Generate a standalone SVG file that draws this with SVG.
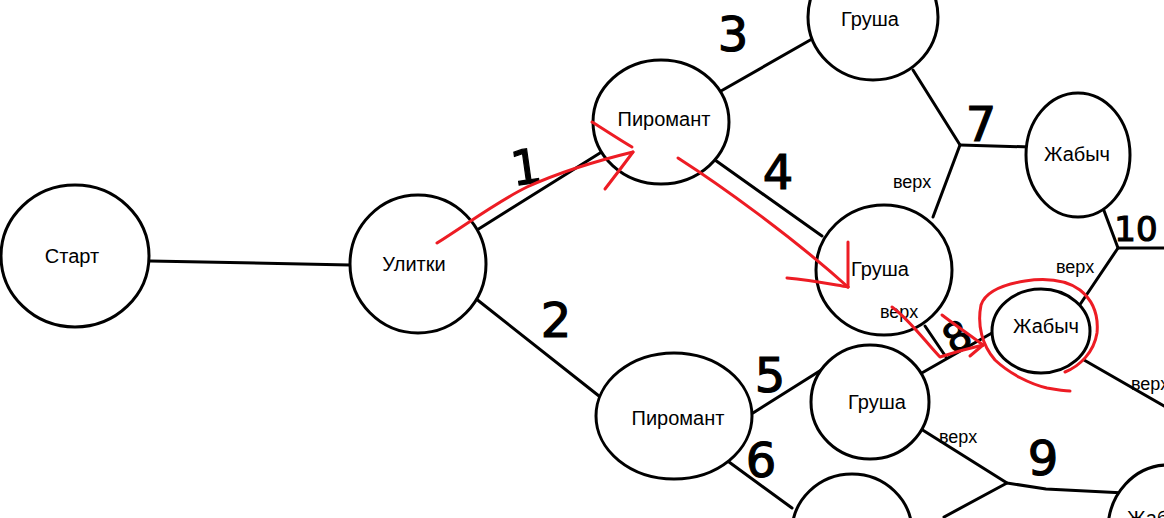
<svg xmlns="http://www.w3.org/2000/svg" width="1164" height="518" viewBox="0 0 1164 518">
<style>
.n{fill:#fff;stroke:#000;stroke-width:3}
.t{font-family:"Liberation Sans",Arial,sans-serif;font-size:20px;fill:#000;text-anchor:middle}
.v{font-family:"Liberation Sans",Arial,sans-serif;font-size:18px;fill:#000}
.d{font-family:"DejaVu Sans","Liberation Sans",sans-serif;font-size:48px;fill:#000;stroke:#000;stroke-width:1.2;text-anchor:middle}
.c{fill:none;stroke:#000;stroke-width:3;stroke-linecap:round;stroke-linejoin:round}
.r{fill:none;stroke:#ed1c24;stroke-width:3;stroke-linecap:round;stroke-linejoin:round}
</style>
<rect width="1164" height="518" fill="#fff"/>
<g id="connectors">
<path class="c" d="M150,261 L350,265"/>
<path class="c" d="M477,230 L600,153"/>
<path class="c" d="M475,298 L599,396"/>
<path class="c" d="M721,91 L812,39"/>
<path class="c" d="M715,160 L822,236"/>
<path class="c" d="M913,70 L960,145 L933,217"/>
<path class="c" d="M960,145 L1031,147"/>
<path class="c" d="M753,413 L826,367"/>
<path class="c" d="M729,462 L792,508"/>
<path class="c" d="M925,326 L946,357"/>
<path class="c" d="M920,374 L1013,321"/>
<path class="c" d="M1103,208 L1118,248 L1164,248"/>
<path class="c" d="M1118,248 L1079,306"/>
<path class="c" d="M1084,360 L1164,406"/>
<path class="c" d="M921,429 L1007,483 L1046,489 L1125,493"/>
<path class="c" d="M1007,483 L944,517"/>
<path class="c" d="M1000,324 L1013,321 L1004,332" stroke-width="2"/>
</g>
<g id="node-start"><ellipse class="n" cx="75" cy="256" rx="74" ry="71"/><text class="t" x="72" y="263">Старт</text></g>
<g id="node-ulitki"><ellipse class="n" cx="418" cy="264" rx="68" ry="69"/><text class="t" x="414" y="271">Улитки</text></g>
<g id="node-piromant1"><ellipse class="n" cx="661" cy="122" rx="68" ry="62"/><text class="t" x="664" y="126">Пиромант</text></g>
<g id="node-piromant2"><ellipse class="n" cx="674" cy="416" rx="78" ry="63"/><text class="t" x="678" y="425">Пиромант</text></g>
<g id="node-grusha1"><ellipse class="n" cx="873" cy="17" rx="65" ry="63"/><text class="t" x="870" y="26">Груша</text></g>
<g id="node-grusha2"><ellipse class="n" cx="884" cy="270" rx="68" ry="65"/><text class="t" x="880" y="276">Груша</text></g>
<g id="node-grusha3"><ellipse class="n" cx="870" cy="402" rx="59" ry="57"/><text class="t" x="877" y="409">Груша</text></g>
<g id="node-grusha4"><ellipse class="n" cx="852" cy="532" rx="60" ry="58"/><text class="t" x="852" y="532">Груша</text></g>
<g id="node-zhabych1"><ellipse class="n" cx="1078" cy="155" rx="52" ry="62"/><text class="t" x="1077" y="161">Жабыч</text></g>
<g id="node-zhabych2"><ellipse class="n" cx="1041" cy="331" rx="49" ry="42"/><text class="t" x="1046" y="333">Жабыч</text></g>
<g id="node-zhabych3"><ellipse class="n" cx="1168" cy="530" rx="60" ry="65"/><text class="t" x="1160" y="525">Жабыч</text></g>
<g id="labels">
<text class="v" x="893" y="188">верх</text>
<text class="v" x="1056" y="273">верх</text>
<text class="v" x="880" y="318">верх</text>
<text class="v" x="939" y="443">верх</text>
<text class="v" x="1131" y="390">верх</text>
<text class="d" x="526" y="184" transform="rotate(-8 526 166)">1</text>
<text class="d" x="556" y="337">2</text>
<text class="d" x="733" y="51">3</text>
<text class="d" x="778" y="189">4</text>
<text class="d" x="770" y="392">5</text>
<text class="d" x="761" y="477">6</text>
<text class="d" x="981" y="141">7</text>
<text class="d" x="956" y="351" transform="rotate(-30 956 335)" style="font-size:40px">8</text>
<text class="d" x="1043" y="475">9</text>
<text class="d" x="1136" y="241" style="font-size:34px">10</text>
</g>
<g id="red-marks">
<path class="r" d="M437,243 C470,222 500,200 527,187 C560,172 600,160 633,152"/>
<path class="r" d="M592,122 C605,130 620,140 632,147"/>
<path class="r" d="M605,189 C615,176 625,163 633,152"/>
<path class="r" d="M678,158 C720,185 790,235 848,287"/>
<path class="r" d="M848,242 L848,287"/>
<path class="r" d="M787,278 C810,280 830,284 848,287"/>
<path class="r" d="M892,307 C910,320 928,345 940,357 C955,352 970,348 983,345"/>
<path class="r" d="M942,315 C955,325 970,335 983,345"/>
<path class="r" d="M970,356 L983,345"/>
<path class="r" d="M1065,372 C1080,366 1094,352 1097,333 C1099,312 1090,298 1080,290 C1066,280 1045,278 1025,281 C1000,285 985,293 981,305 C977,325 982,345 995,360 C1010,374 1030,384 1047,388 C1058,390 1065,391 1070,391"/>
</g>
</svg>
